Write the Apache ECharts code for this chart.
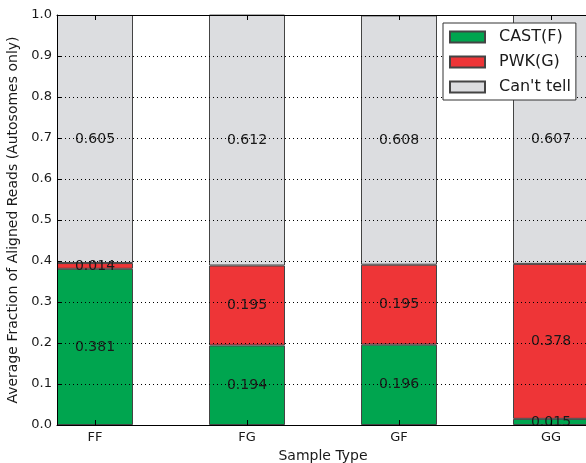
<!DOCTYPE html>
<html>
<head>
<meta charset="utf-8">
<script src="https://cdn.jsdelivr.net/npm/echarts@6/dist/echarts.min.js"></script>
<style>html,body{margin:0;padding:0;background:#fff}#c{width:586px;height:463px}</style>
</head>
<body>
<div id="c"></div>
<script>
var categories = ['FF', 'FG', 'GF', 'GG'];
var castF = [0.381, 0.194, 0.196, 0.015];
var pwkG = [0.014, 0.195, 0.195, 0.378];
var cantTell = [0.605, 0.612, 0.608, 0.607];

var FONT = 'DejaVu Sans';
var TXT = '#1a1a1a';

// Axis slots: each category followed by an empty spacer slot (bar width = gap width)
var slots = [];
categories.forEach(function (c, i) {
  slots.push(c);
  if (i < categories.length - 1) slots.push('');
});
function spread(vals) {
  var out = [];
  vals.forEach(function (v, i) {
    out.push(v);
    if (i < vals.length - 1) out.push('-');
  });
  return out;
}

function mk(name, vals, color) {
  return {
    name: name,
    type: 'bar',
    stack: 'all',
    barWidth: '100%',
    z: 1,
    data: spread(vals),
    itemStyle: { color: color, borderColor: '#444', borderWidth: 1 },
    label: {
      show: true, position: 'inside', fontFamily: FONT, fontSize: 14, color: TXT,
      formatter: function (p) { return Number(p.value).toFixed(3); }
    },
    emphasis: { disabled: true }
  };
}

function xAx(top) {
  return {
    type: 'category', data: slots, boundaryGap: true, z: 5,
    position: top ? 'top' : 'bottom',
    name: top ? '' : 'Sample Type', nameLocation: 'middle', nameGap: 18,
    nameTextStyle: { fontFamily: FONT, fontSize: 14, color: TXT },
    axisLine: { show: true, onZero: false, lineStyle: { color: '#000', width: 1 } },
    axisTick: { show: true, inside: true, length: 5, alignWithLabel: true,
      interval: function (i) { return i % 2 === 0; }, lineStyle: { color: '#000' } },
    axisLabel: { show: !top, interval: 0, fontFamily: FONT, fontSize: 13, color: TXT, margin: 6 },
    splitLine: { show: false }
  };
}

var chart = echarts.init(document.getElementById('c'));
chart.setOption({
  animation: false,
  textStyle: { fontFamily: FONT },
  grid: { left: 57, right: -3, top: 15, bottom: 38, containLabel: false, outerBoundsMode: 'none' },
  legend: {
    orient: 'vertical',
    left: 443, top: 23,
    icon: 'rect',
    itemWidth: 35, itemHeight: 11,
    itemGap: 7,
    padding: [5, 5, 4, 6],
    backgroundColor: '#fff',
    borderColor: '#333',
    borderWidth: 1,
    z: 10,
    textStyle: { fontFamily: FONT, fontSize: 16, color: TXT, lineHeight: 18, padding: [0, 0, 0, 9] },
    data: ['CAST(F)', 'PWK(G)', "Can't tell"]
  },
  xAxis: [xAx(false), xAx(true)],
  yAxis: [{
    type: 'value', min: 0, max: 1, interval: 0.1, z: 5,
    name: 'Average Fraction of Aligned Reads (Autosomes only)',
    nameLocation: 'middle', nameGap: 26,
    nameTextStyle: { fontFamily: FONT, fontSize: 14, color: TXT },
    axisLine: { show: true, onZero: false, lineStyle: { color: '#000', width: 1 } },
    axisTick: { show: true, inside: true, length: 4, lineStyle: { color: '#000' } },
    axisLabel: { fontFamily: FONT, fontSize: 13, color: TXT, margin: 5,
      formatter: function (v) { return v.toFixed(1); } },
    splitLine: { show: true, lineStyle: { color: '#000', width: 1, type: [1, 3] } }
  }, {
    type: 'value', min: 0, max: 1, interval: 0.1, position: 'right', z: 5,
    axisLine: { show: true, onZero: false, lineStyle: { color: '#000', width: 1 } },
    axisTick: { show: true, inside: true, length: 4 },
    axisLabel: { show: false },
    splitLine: { show: false }
  }],
  series: [
    mk('CAST(F)', castF, '#00a54f'),
    mk('PWK(G)', pwkG, '#ee3537'),
    mk("Can't tell", cantTell, '#dcdde0')
  ]
});
</script>
</body>
</html>
